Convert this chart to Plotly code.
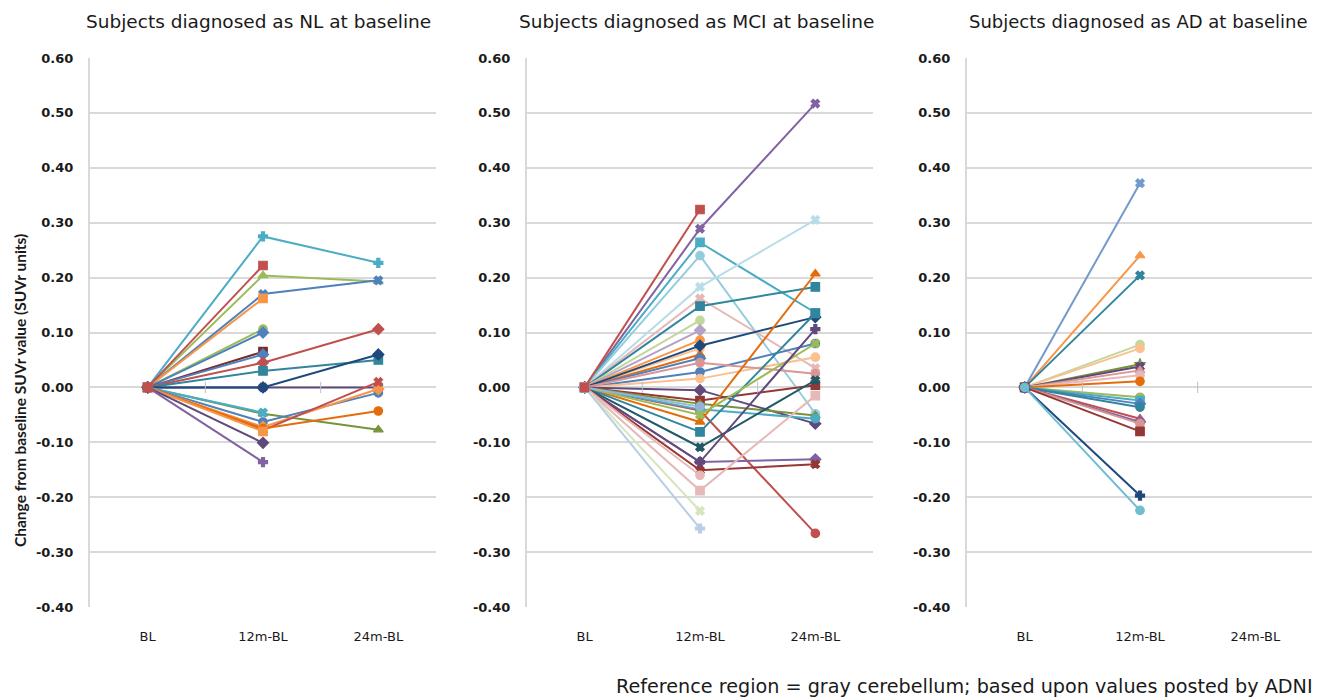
import plotly.graph_objects as go

categories = ["BL", "12m-BL", "24m-BL"]
y_ticks = [0.6, 0.5, 0.4, 0.3, 0.2, 0.1, 0.0, -0.1, -0.2, -0.3, -0.4]
y_tick_labels = ["0.60", "0.50", "0.40", "0.30", "0.20", "0.10", "0.00", "-0.10", "-0.20", "-0.30", "-0.40"]
category_boundaries = [0.5, 1.5]

# NL panel: change at 12m and 24m (None = no value)
nl_12m = [0.275, 0.204, 0.170, 0.162, 0.106, 0.100, 0.065, 0.060, 0.045, 0.030, 0.000, 0.000,
          -0.048, -0.046, -0.063, -0.072, -0.078, -0.075, -0.080, -0.101, -0.136, 0.222]
nl_24m = [0.227, 0.193, 0.195, None, None, None, None, None, 0.106, 0.050, 0.000, 0.060,
          -0.077, None, -0.010, -0.003, 0.010, -0.043, None, None, None, None]
nl_colors = ["#4BACC6", "#9BBB59", "#4F81BD", "#F79646", "#9BBB59", "#4F81BD", "#772C2A", "#4F81BD",
             "#C0504D", "#31859C", "#5F497A", "#1F497D", "#77933C", "#4BACC6", "#4F81BD", "#F79646",
             "#C0504D", "#E46C0A", "#F79646", "#5F497A", "#8064A2", "#C0504D"]
nl_symbols = ["cross", "triangle-up", "x", "square", "circle", "diamond", "square", "diamond",
              "diamond", "square", "x", "diamond", "triangle-up", "x", "circle", "diamond",
              "x", "circle", "square", "diamond", "cross", "square"]

# MCI panel
mci_12m = [0.289, 0.264, 0.240, 0.183, 0.162, 0.148, 0.122, 0.104, 0.086, 0.071, 0.060, 0.053,
           0.076, 0.028, 0.016, 0.045, -0.005, -0.024, -0.042, -0.030, -0.040, -0.063, -0.081,
           -0.050, -0.109, -0.136, -0.136, -0.151, -0.160, -0.188, -0.225, -0.257, -0.035, 0.324]
mci_24m = [0.517, 0.136, -0.048, 0.305, 0.035, 0.183, None, None, None, None, None, None,
           0.128, 0.080, 0.055, 0.025, -0.066, 0.004, -0.266, -0.051, -0.057, 0.207, 0.135,
           0.080, 0.013, -0.131, 0.106, -0.140, None, -0.015, None, None, None, None]
mci_colors = ["#8064A2", "#4BACC6", "#93CDDD", "#B7DEE8", "#E6B9B8", "#31859C", "#C3D69B", "#B3A2C7",
              "#F79646", "#FAC090", "#E46C0A", "#4F81BD", "#1F497D", "#4F81BD", "#FAC090", "#D99694",
              "#604A7B", "#953735", "#C0504D", "#77933C", "#4BACC6", "#E46C0A", "#31859C", "#9BBB59",
              "#215968", "#8064A2", "#604A7B", "#953735", "#E6B9B8", "#E6B9B8", "#D7E4BD", "#B9CDE5",
              "#95B3D7", "#C0504D"]
mci_symbols = ["x", "square", "circle", "x", "x", "square", "circle", "diamond", "circle", "circle",
               "triangle-up", "diamond", "diamond", "circle", "circle", "circle", "diamond", "square",
               "circle", "triangle-up", "circle", "triangle-up", "square", "x", "x", "diamond",
               "cross", "x", "circle", "square", "x", "cross", "circle", "square"]

# AD panel (12m only)
ad_12m = [0.372, 0.240, 0.204, 0.078, 0.071, 0.042, 0.038, 0.031, 0.022, 0.011, -0.018, -0.024,
          -0.030, -0.036, -0.057, -0.063, -0.066, -0.080, -0.197, -0.224]
ad_colors = ["#729ACA", "#F79646", "#31859C", "#C3D69B", "#FAC090", "#77933C", "#604A7B", "#D99694",
             "#E6B9B8", "#E46C0A", "#9BBB59", "#4BACC6", "#4F81BD", "#31859C", "#C0504D", "#8064A2",
             "#D99694", "#953735", "#1F497D", "#6FBDD1"]
ad_symbols = ["x", "triangle-up", "x", "circle", "circle", "star", "x", "triangle-up", "circle",
              "circle", "circle", "square", "diamond", "circle", "triangle-up", "diamond", "circle",
              "square", "cross", "circle"]

panel_titles = ["Subjects diagnosed as NL at baseline",
                "Subjects diagnosed as MCI at baseline",
                "Subjects diagnosed as AD at baseline"]
y_title = "Change from baseline SUVr value (SUVr units)"
footer = "Reference region = gray cerebellum; based upon values posted by ADNI"

W, H = 1320, 698
OFF = 8  # page body margin
FONT = "DejaVu Sans"
fig = go.Figure()

def add_panel(idx, v12, v24, colors, symbols):
    xa = "x" if idx == 1 else f"x{idx}"
    ya = "y" if idx == 1 else f"y{idx}"
    for i, val in enumerate(v12):
        ys = [0.0, val]
        xs = [0, 1]
        if v24 is not None and v24[i] is not None:
            ys.append(v24[i])
            xs.append(2)
        fig.add_trace(go.Scatter(
            x=xs, y=ys, mode="lines+markers", xaxis=xa, yaxis=ya,
            line=dict(color=colors[i], width=2),
            marker=dict(symbol=symbols[i], size=8.5 if symbols[i] not in ("x", "cross") else 7.5,
                        color=colors[i],
                        line=dict(width=1.2, color=colors[i])),
            showlegend=False, hoverinfo="y"))
    fig.add_trace(go.Scatter(
        x=category_boundaries, y=[0.0] * len(category_boundaries), mode="markers",
        xaxis=xa, yaxis=ya,
        marker=dict(symbol="line-ns", size=8, line=dict(width=1, color="#bfbfbf")),
        showlegend=False, hoverinfo="skip"))

add_panel(1, nl_12m, nl_24m, nl_colors, nl_symbols)
add_panel(2, mci_12m, mci_24m, mci_colors, mci_symbols)
add_panel(3, ad_12m, None, ad_colors, ad_symbols)

def px(x):
    return (x - OFF) / W

def py(y):
    return 1 - (y - OFF) / H

x_doms = [(90, 436), (527, 873), (967, 1313)]
y_top, y_bot = 58, 607
ydom = [py(y_bot), py(y_top)]

layout = dict(
    width=W, height=H, plot_bgcolor="white", paper_bgcolor="white",
    margin=dict(l=0, r=0, t=0, b=0, pad=0, autoexpand=False),
    font=dict(family=FONT, color="#1a1a1a"),
    showlegend=False,
)
for k, (a, b) in enumerate(x_doms, start=1):
    sx = "" if k == 1 else str(k)
    layout[f"xaxis{sx}"] = dict(
        domain=[px(a), px(b)], range=[-0.5, 2.5], tickvals=[0, 1, 2], ticktext=categories,
        showgrid=False, zeroline=False, showline=False, ticks="", automargin=False,
        tickfont=dict(size=13, family=FONT, color="#1a1a1a"), anchor="y" + sx, ticklabelstandoff=20,
        fixedrange=True)
    layout[f"yaxis{sx}"] = dict(
        domain=ydom, range=[-0.4, 0.6], tickvals=y_ticks, ticktext=y_tick_labels,
        showgrid=True, gridcolor="#d9d9d9", gridwidth=1.5, zeroline=False, automargin=False,
        showline=True, linecolor="#d9d9d9", linewidth=2, ticks="",
        tickfont=dict(size=13, family=FONT, color="#1a1a1a", weight="bold"),
        anchor="x" + sx, ticklabelstandoff=12, fixedrange=True)
fig.update_layout(**layout)

title_x = [84, 517, 967]
title_sizes = [18.5, 18.5, 18.0]
annotations = []
for t, tx, ts in zip(panel_titles, title_x, title_sizes):
    annotations.append(dict(text=t, x=px(tx), y=py(22), xref="paper", yref="paper",
                            xanchor="left", yanchor="middle", showarrow=False,
                            font=dict(size=ts, family=FONT, color="#1a1a1a")))
annotations.append(dict(text=y_title, x=px(20), y=py(391), xref="paper", yref="paper",
                        textangle=-90, xanchor="center", yanchor="middle", showarrow=False,
                        font=dict(size=15.5, family="Lato", color="#1a1a1a", weight="bold")))
annotations.append(dict(text=footer, x=px(614), y=py(686), xref="paper", yref="paper",
                        xanchor="left", yanchor="middle", showarrow=False,
                        font=dict(size=19.2, family=FONT, color="#1a1a1a")))
fig.update_layout(annotations=annotations)

fig.write_html("out.html")
